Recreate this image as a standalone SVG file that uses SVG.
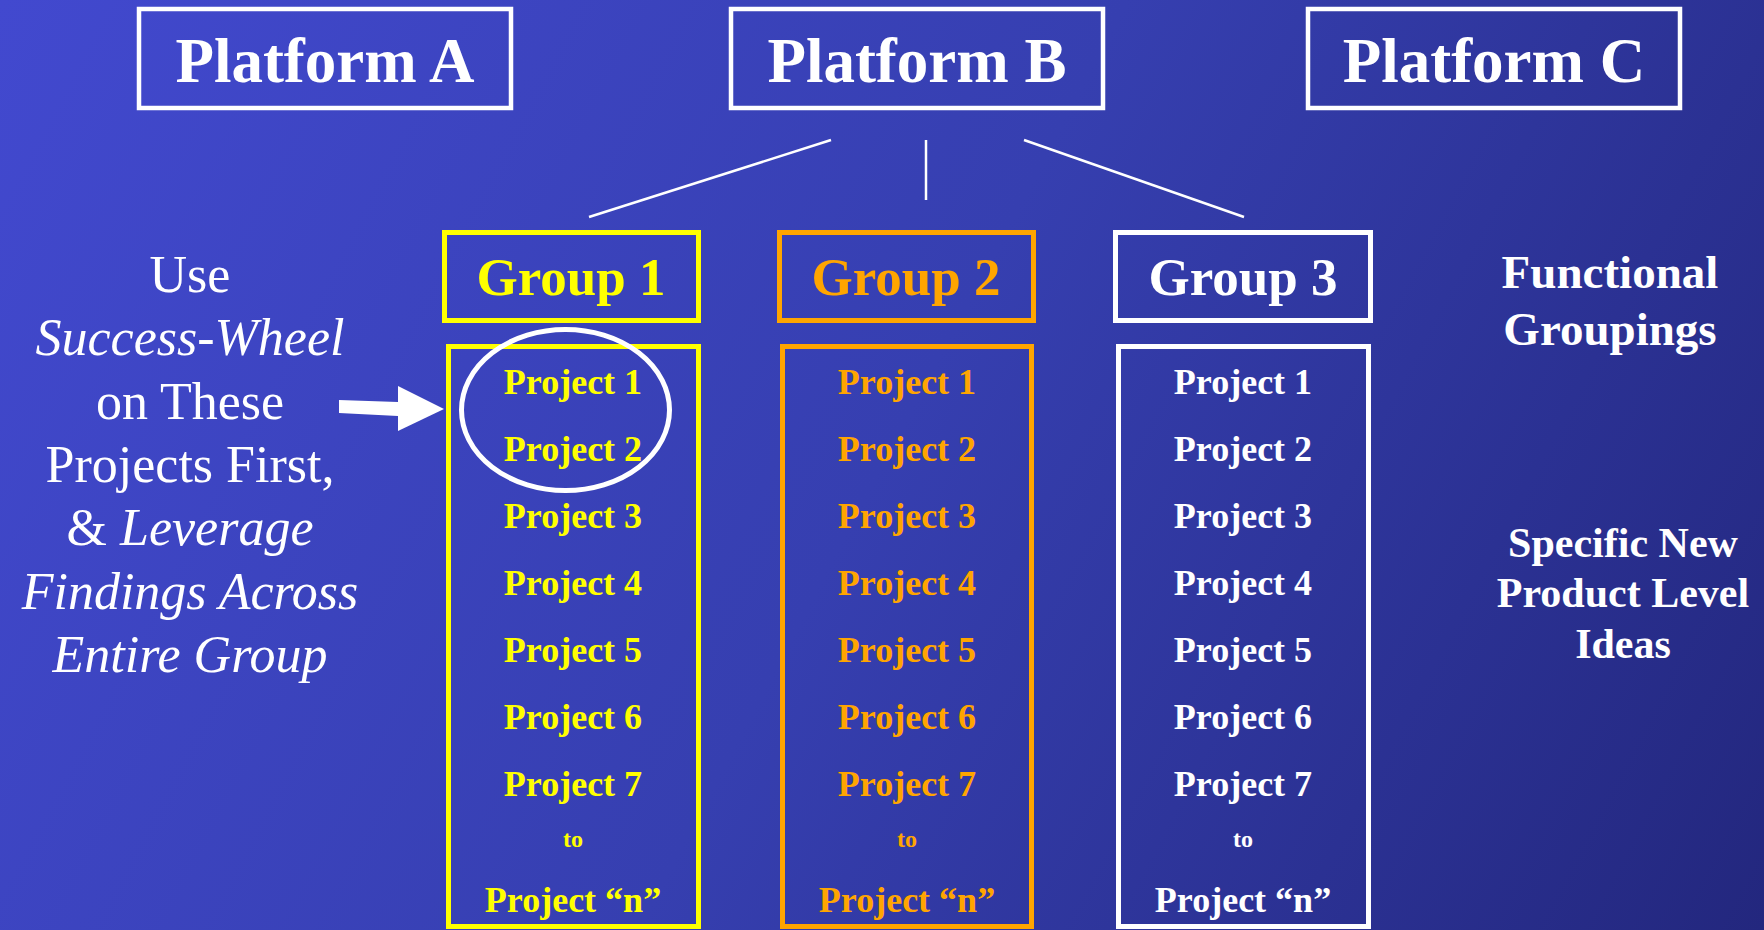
<svg xmlns="http://www.w3.org/2000/svg" width="1764" height="930" viewBox="0 0 1764 930">
  <defs>
    <linearGradient id="bg" x1="0" y1="0" x2="1764" y2="930" gradientUnits="userSpaceOnUse">
      <stop offset="0" stop-color="#4249CF"/>
      <stop offset="0.5" stop-color="#363FB0"/>
      <stop offset="1" stop-color="#23277E"/>
    </linearGradient>
    <style>
      text { font-family: "Liberation Serif", "Times New Roman", serif; text-anchor: middle; }
      .plat { fill: none; stroke: #FFFFFF; stroke-width: 4.5; }
      .platText { font-size: 63px; font-weight: bold; fill: #FFFFFF; }
      .grpText { font-size: 53px; font-weight: bold; }
      .proj { font-size: 36px; font-weight: bold; }
      .to { font-size: 24px; font-weight: bold; }
      .yel { fill: #FFFF00; }
      .org { fill: #FFA500; }
      .wht { fill: #FFFFFF; }
      .boxY { fill: none; stroke: #FFFF00; stroke-width: 5; }
      .boxO { fill: none; stroke: #FFA500; stroke-width: 5; }
      .boxW { fill: none; stroke: #FFFFFF; stroke-width: 5; }
      .conn { stroke: #FFFFFF; stroke-width: 2.5; fill: none; }
      .note { font-size: 52px; fill: #FFFFFF; }
      .side { font-weight: bold; fill: #FFFFFF; }
    </style>
  </defs>
  <rect x="0" y="0" width="1764" height="930" fill="url(#bg)"/>

  <g id="platformA">
    <rect class="plat" x="139" y="9" width="372" height="99"/>
    <text class="platText" x="325" y="82">Platform A</text>
  </g>
  <g id="platformB">
    <rect class="plat" x="731" y="9" width="372" height="99"/>
    <text class="platText" x="917" y="82">Platform B</text>
  </g>
  <g id="platformC">
    <rect class="plat" x="1308" y="9" width="372" height="99"/>
    <text class="platText" x="1494" y="82">Platform C</text>
  </g>

  <g id="connectors">
    <line class="conn" x1="831" y1="140" x2="589" y2="217"/>
    <line class="conn" x1="926" y1="140" x2="926" y2="200"/>
    <line class="conn" x1="1024" y1="140" x2="1244" y2="217"/>
  </g>

  <g id="group1">
    <rect class="boxY" x="444.5" y="232.5" width="254" height="88"/>
    <text class="grpText yel" x="571" y="295">Group 1</text>
  </g>
  <g id="group2">
    <rect class="boxO" x="779.5" y="232.5" width="254" height="88"/>
    <text class="grpText org" x="906" y="295">Group 2</text>
  </g>
  <g id="group3">
    <rect class="boxW" x="1115.5" y="232.5" width="255" height="88"/>
    <text class="grpText wht" x="1243" y="295">Group 3</text>
  </g>

  <g id="projects1">
    <rect class="boxY" x="448.5" y="346.5" width="250" height="580"/>
    <g class="proj yel">
      <text x="573" y="394">Project 1</text>
      <text x="573" y="461">Project 2</text>
      <text x="573" y="528">Project 3</text>
      <text x="573" y="595">Project 4</text>
      <text x="573" y="662">Project 5</text>
      <text x="573" y="729">Project 6</text>
      <text x="573" y="796">Project 7</text>
      <text class="to" x="573" y="847">to</text>
      <text x="573" y="912">Project “n”</text>
    </g>
  </g>
  <g id="projects2">
    <rect class="boxO" x="782.5" y="346.5" width="249" height="580"/>
    <g class="proj org">
      <text x="907" y="394">Project 1</text>
      <text x="907" y="461">Project 2</text>
      <text x="907" y="528">Project 3</text>
      <text x="907" y="595">Project 4</text>
      <text x="907" y="662">Project 5</text>
      <text x="907" y="729">Project 6</text>
      <text x="907" y="796">Project 7</text>
      <text class="to" x="907" y="847">to</text>
      <text x="907" y="912">Project “n”</text>
    </g>
  </g>
  <g id="projects3">
    <rect class="boxW" x="1118.5" y="346.5" width="250" height="580"/>
    <g class="proj wht">
      <text x="1243" y="394">Project 1</text>
      <text x="1243" y="461">Project 2</text>
      <text x="1243" y="528">Project 3</text>
      <text x="1243" y="595">Project 4</text>
      <text x="1243" y="662">Project 5</text>
      <text x="1243" y="729">Project 6</text>
      <text x="1243" y="796">Project 7</text>
      <text class="to" x="1243" y="847">to</text>
      <text x="1243" y="912">Project “n”</text>
    </g>
  </g>

  <g id="highlight">
    <ellipse cx="565.5" cy="410" rx="104" ry="80.5" fill="none" stroke="#FFFFFF" stroke-width="5"/>
  </g>

  <g id="arrow">
    <polygon points="339,400 398,402 398,416 339,413" fill="#FFFFFF"/>
    <polygon points="398,386 444,409 398,431" fill="#FFFFFF"/>
  </g>

  <g id="note">
    <text class="note" x="190" y="292">Use</text>
    <text class="note" x="190" y="355" font-style="italic">Success-Wheel</text>
    <text class="note" x="190" y="419">on These</text>
    <text class="note" x="190" y="482">Projects First,</text>
    <text class="note" x="190" y="545">&amp; <tspan font-style="italic">Leverage</tspan></text>
    <text class="note" x="190" y="609" font-style="italic">Findings Across</text>
    <text class="note" x="190" y="672" font-style="italic">Entire Group</text>
  </g>

  <g id="labelFunctional">
    <text class="side" x="1610" y="288" font-size="47">Functional</text>
    <text class="side" x="1610" y="345" font-size="47">Groupings</text>
  </g>
  <g id="labelSpecific">
    <text class="side" x="1623" y="557" font-size="42">Specific New</text>
    <text class="side" x="1623" y="607" font-size="42">Product Level</text>
    <text class="side" x="1623" y="658" font-size="42">Ideas</text>
  </g>
</svg>
